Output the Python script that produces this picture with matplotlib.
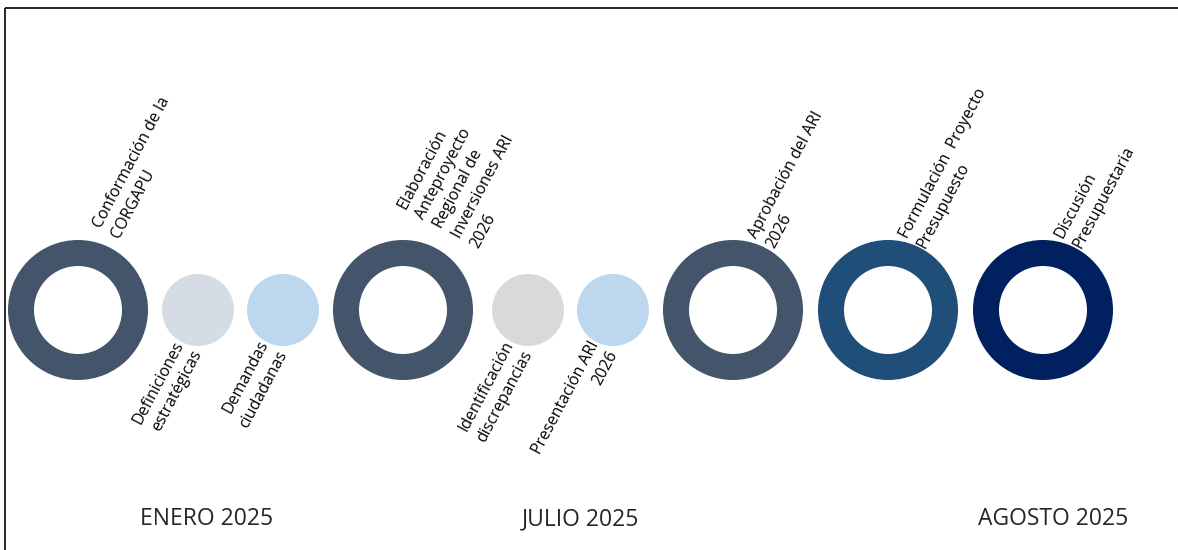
import matplotlib
matplotlib.use("Agg")
import matplotlib.pyplot as plt
from matplotlib.patches import Wedge, Circle

# --- data ---
ring_labels = ["Conformación de la\nCORGAPU",
               "Elaboración\nAnteproyecto\nRegional de\nInversiones ARI\n2026",
               "Aprobación del ARI\n2026",
               "Formulación  Proyecto\nPresupuesto",
               "Discusión\nPresupuestaria"]
ring_x = [78, 403, 733, 888, 1043]
ring_colors = ["#44546A", "#44546A", "#44546A", "#1F4E79", "#002060"]
ring_label_xy = [(123, 241), (482, 251), (778, 251), (929, 251), (1084, 251)]

dot_labels = ["Definiciones\nestratégicas", "Demandas\nciudadanas",
              "Identificación\ndiscrepancias", "Presentación ARI\n2026"]
dot_x = [198, 283, 528, 613]
dot_colors = ["#D6DCE5", "#BDD7EE", "#D9D9D9", "#BDD7EE"]

months = ["ENERO 2025", "JULIO 2025", "AGOSTO 2025"]
month_x = [207, 580, 1053]

# --- figure ---
W, H = 1178, 550
fig = plt.figure(figsize=(W / 100, H / 100), dpi=100)
ax = fig.add_axes([0, 0, 1, 1])
ax.set_xlim(0, W)
ax.set_ylim(H, 0)
ax.set_aspect("equal")
ax.axis("off")

font = "Open Sans"
cy = 310
R_out, R_in = 70, 44
r_dot = 36
ROT = 62
FS = 11.5
LS = 1.4

# border (top and left)
ax.plot([5, W + 5], [8, 8], color="black", lw=1.2, solid_capstyle="butt")
ax.plot([5, 5], [8, H + 5], color="black", lw=1.2, solid_capstyle="butt")

for x, c, lab, (tx, ty) in zip(ring_x, ring_colors, ring_labels, ring_label_xy):
    ax.add_patch(Wedge((x, cy), R_out, 0, 360, width=R_out - R_in,
                       facecolor=c, edgecolor="none"))
    ax.text(tx, ty, lab, rotation=ROT, rotation_mode="anchor",
            ha="left", va="bottom", multialignment="left",
            fontsize=FS, family=font, color="black", linespacing=LS)

for x, c, lab in zip(dot_x, dot_colors, dot_labels):
    ax.add_patch(Circle((x, cy), r_dot, facecolor=c, edgecolor="none"))
    ax.text(x - 25, 338, lab, rotation=ROT, rotation_mode="anchor",
            ha="right", va="top", multialignment="right",
            fontsize=FS, family=font, color="black", linespacing=LS)

for m, x in zip(months, month_x):
    ax.text(x, 519, m, ha="center", va="center", fontsize=16.5,
            family=font, color="#262626")

fig.savefig("out.png", dpi=100)
